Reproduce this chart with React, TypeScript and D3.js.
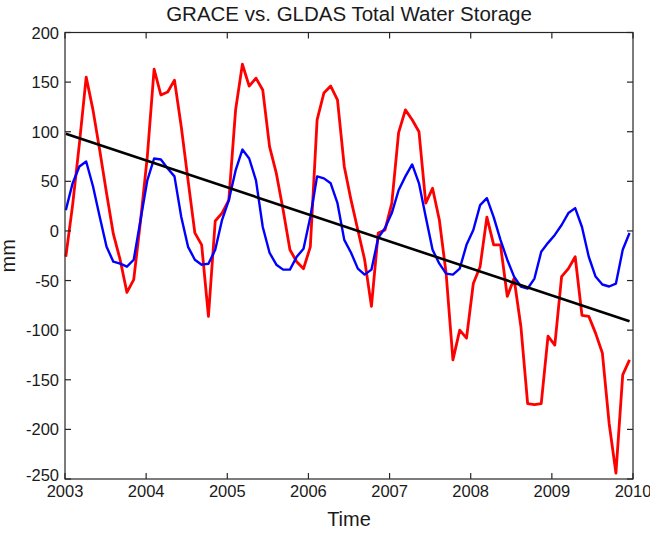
import React from 'react';
import * as d3 from 'd3';

const titleText = 'GRACE vs. GLDAS Total Water Storage';
const xLabel = 'Time';
const yLabel = 'mm';
const xTicks = [2003, 2004, 2005, 2006, 2007, 2008, 2009, 2010];
const yTicks = [200, 150, 100, 50, 0, -50, -100, -150, -200, -250];

const startYear = 2003.01;
const monthStep = 0.0837;

const grace = [
  -26, 26, 88, 155, 122, 81, 38, -3, -29, -62, -49, 10,
  75, 163, 137, 140, 152, 105, 51, -2, -14, -86, 10, 18,
  31, 122, 168, 146, 154, 142, 85, 58, 21, -19, -31, -38,
  -16, 112, 139, 146, 132, 65, 31, 1, -29, -76, -2, 1,
  28, 99, 122, 112, 100, 28, 43, 11, -43, -130, -100, -108,
  -53, -36, 14, -14, -14, -66, -48, -96, -174, -175, -174, -106,
  -115, -46, -38, -26, -85, -86, -103, -123, -194, -244, -145, -130,
];

const gldas = [
  21, 48, 65, 70, 45, 14, -16, -31, -33, -36, -29, 11,
  51, 73, 72, 63, 55, 14, -16, -29, -34, -33, -19, 11,
  31, 61, 82, 73, 51, 4, -22, -34, -39, -39, -26, -18,
  14, 55, 53, 48, 28, -9, -22, -38, -44, -39, -7, 3,
  18, 41, 55, 67, 48, 14, -19, -33, -43, -44, -38, -14,
  1, 26, 33, 14, -9, -29, -46, -56, -58, -48, -21, -12,
  -4, 6, 18, 23, 4, -26, -46, -54, -56, -53, -19, -2,
];

const trendValues = [98, -91];

const FONT = "'Liberation Sans', Arial, Helvetica, sans-serif";

export default function App() {
  const W = 650;
  const H = 533;
  const L = 65, R = 633, T = 32.5, B = 479;
  const x = d3.scaleLinear().domain([2003, 2010]).range([L, R]);
  const y = d3.scaleLinear().domain([-250, 200]).range([B, T]);
  const times = grace.map((_, i) => startYear + i * monthStep);
  const line = d3.line<[number, number]>().x(d => x(d[0])).y(d => y(d[1]));
  const gracePts = grace.map((v, i) => [times[i], v] as [number, number]);
  const gldasPts = gldas.map((v, i) => [times[i], v] as [number, number]);
  const trendPts: [number, number][] = [
    [times[0], trendValues[0]],
    [times[times.length - 1], trendValues[1]],
  ];
  const tickLen = 6;
  const axisColor = '#262626';
  const textColor = '#1a1a1a';
  return (
    <svg width={W} height={H} style={{ position: 'absolute', left: 0, top: 0, background: '#fff' }} fontFamily={FONT}>
      <rect x={0} y={0} width={W} height={H} fill="#fff" />
      <path d={line(gracePts) || ''} fill="none" stroke="#ff0000" strokeWidth={2.8} strokeLinejoin="round" />
      <path d={line(gldasPts) || ''} fill="none" stroke="#0000ff" strokeWidth={2.4} strokeLinejoin="round" />
      <path d={line(trendPts) || ''} fill="none" stroke="#000" strokeWidth={2.6} />
      <rect x={L} y={T} width={R - L} height={B - T} fill="none" stroke={axisColor} strokeWidth={1.2} />
      {xTicks.map(t => (
        <g key={'x' + t}>
          <line x1={x(t)} x2={x(t)} y1={B} y2={B - tickLen} stroke={axisColor} strokeWidth={1.2} />
          <line x1={x(t)} x2={x(t)} y1={T} y2={T + tickLen} stroke={axisColor} strokeWidth={1.2} />
          <text x={x(t)} y={B + 18} textAnchor="middle" fontSize={16.5} fill={textColor}>{t}</text>
        </g>
      ))}
      {yTicks.map(t => (
        <g key={'y' + t}>
          <line x1={L} x2={L + tickLen} y1={y(t)} y2={y(t)} stroke={axisColor} strokeWidth={1.2} />
          <line x1={R} x2={R - tickLen} y1={y(t)} y2={y(t)} stroke={axisColor} strokeWidth={1.2} />
          <text x={L - 6} y={y(t) + (t === -250 ? 2 : 6)} textAnchor="end" fontSize={16.5} fill={textColor}>{t}</text>
        </g>
      ))}
      <text x={(L + R) / 2} y={21} textAnchor="middle" fontSize={20.5} fill={textColor}>{titleText}</text>
      <text x={(L + R) / 2} y={526} textAnchor="middle" fontSize={20} fill={textColor}>{xLabel}</text>
      <text transform={`translate(15, ${(T + B) / 2}) rotate(-90)`} textAnchor="middle" fontSize={20} fill={textColor}>{yLabel}</text>
    </svg>
  );
}
